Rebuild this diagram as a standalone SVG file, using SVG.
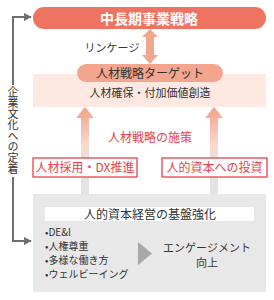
<svg xmlns="http://www.w3.org/2000/svg" width="274" height="300" viewBox="0 0 274 300">
<defs>
<style>
text{font-family:"Noto Sans CJK JP","Noto Sans",sans-serif;}
.dk{fill:#333;}
.rd{fill:#E8404A;}
.lbl{fill:#fff;stroke:#E8404A;stroke-width:1.3;}
.cn{fill:none;stroke:#6e6e6e;stroke-width:2;}
</style>
<linearGradient id="ga" x1="0" y1="107" x2="0" y2="170" gradientUnits="userSpaceOnUse">
<stop offset="0" stop-color="#F3A086"/>
<stop offset="0.6" stop-color="#F8D9CE"/>
<stop offset="1" stop-color="#E3E3E3"/>
</linearGradient>
<marker id="ah" viewBox="0 0 10 10" refX="9" refY="5" markerWidth="4" markerHeight="4" markerUnits="strokeWidth" orient="auto">
<path d="M0,0L10,5L0,10z" fill="#6e6e6e"/>
</marker>
</defs>
<rect x="33" y="74" width="233" height="33" fill="#FDE8E2"/>
<rect x="33" y="194" width="233" height="98" fill="#E8E8E8"/>
<g id="connectors">
<path d="M150,29 L158,37 L154,37 L154,55 L158,55 L150,64 L142,55 L146,55 L146,37 L142,37 Z" fill="#F4A58E"/>
<path d="M85,107 L94,118 L89,118 L89,194 L81,194 L81,118 L76,118 Z" fill="url(#ga)"/>
<path d="M214,107 L223,118 L218,118 L218,194 L210,194 L210,118 L205,118 Z" fill="url(#ga)"/>
<path class="cn" d="M13,85 L13,17 L31,17" marker-end="url(#ah)"/>
<path class="cn" d="M13,177 L13,241 L31,241" marker-end="url(#ah)"/>
<path d="M138,242 L152,253.5 L138,265 Z" fill="#A8A8A8"/>
</g>
<text class="dk" x="13" y="130" font-size="11" writing-mode="vertical-rl" text-anchor="middle" dominant-baseline="central">企業文化への定着</text>
<text class="dk" x="112" y="52" font-size="11" text-anchor="middle">リンケージ</text>
<g id="top">
<rect x="33" y="7" width="233" height="22" rx="11" fill="#EE7361"/>
<text x="149" y="23.5" font-size="14" font-weight="bold" fill="#fff" text-anchor="middle">中長期事業戦略</text>
</g>
<g id="target">
<rect x="77" y="64" width="146" height="18" rx="9" fill="#F4A58E"/>
<text class="dk" x="150" y="77.5" font-size="12" text-anchor="middle">人材戦略ターゲット</text>
<text class="dk" x="150" y="97" font-size="11" text-anchor="middle">人材確保・付加価値創造</text>
</g>
<text class="rd" x="150" y="142" font-size="12" text-anchor="middle">人材戦略の施策</text>
<g id="left-measure">
<rect class="lbl" x="33" y="158" width="104" height="19"/>
<text class="rd" x="85" y="172" font-size="12" text-anchor="middle">人材採用・DX推進</text>
</g>
<g id="right-measure">
<rect class="lbl" x="162" y="158" width="105" height="19"/>
<text class="rd" x="214.5" y="172" font-size="12" text-anchor="middle">人的資本への投資</text>
</g>
<g id="base">
<rect x="45" y="207" width="209" height="14" fill="#fff"/>
<text class="dk" x="150" y="218.5" font-size="12" text-anchor="middle">人的資本経営の基盤強化</text>
<text class="dk" x="45" y="236" font-size="10">•DE&amp;I</text>
<text class="dk" x="45" y="250" font-size="10">•人権尊重</text>
<text class="dk" x="45" y="264" font-size="10">•多様な働き方</text>
<text class="dk" x="45" y="278" font-size="10">•ウェルビーイング</text>
<text class="dk" x="207" y="252" font-size="11" text-anchor="middle">エンゲージメント</text>
<text class="dk" x="207" y="267" font-size="11" text-anchor="middle">向上</text>
</g>
</svg>
